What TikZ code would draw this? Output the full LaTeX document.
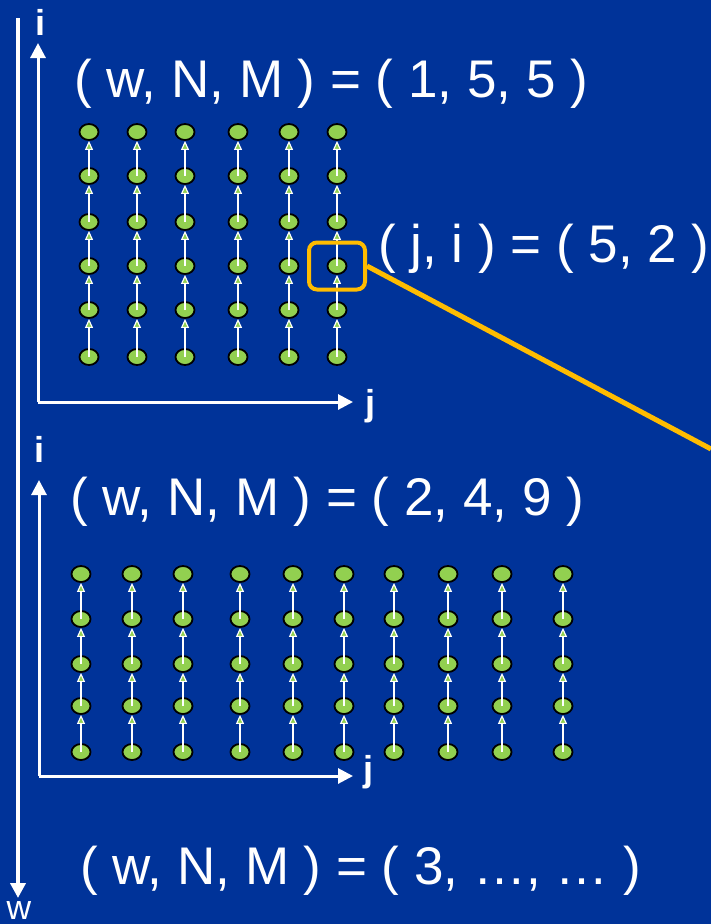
\documentclass[tikz,border=0pt]{standalone}
\usepackage{fontspec}
\setmainfont{Liberation Sans}
\usetikzlibrary{arrows.meta}
\usetikzlibrary{shapes.geometric}
\definecolor{sblue}{RGB}{0,51,153}
\definecolor{sgreen}{RGB}{146,208,80}
\definecolor{sorange}{RGB}{255,188,0}

\begin{document}
\begin{tikzpicture}[x=1pt, y=-1pt,
  dot/.style={ellipse, draw=black, line width=1.8, fill=sgreen, minimum width=19, minimum height=16, inner sep=0},
  dep/.style={draw=white, line width=2.8, -{Triangle[length=9pt, width=8pt, fill=sgreen, line width=1.1pt]}},
  axis/.style={draw=white, line width=3, -{Triangle[length=15pt, width=15pt]}},
  big/.style={text=white, inner sep=0, anchor=base west, font=\fontsize{53}{60}\selectfont},
  lbl/.style={text=white, inner sep=0, anchor=base, font=\bfseries\fontsize{36}{40}\selectfont}]

\path[use as bounding box, fill=sblue] (0,0) rectangle (711,924);

% w axis
\coordinate (w0) at (18,18);
\coordinate (w1) at (18,898);
\draw[axis, line width=4] (w0) -- (w1);
\node[lbl, font=\fontsize{34}{40}\selectfont] (wlab) at (19,919) {w};

% w = 1
\coordinate (o1) at (38,402);
\coordinate (i1) at (38,43);
\coordinate (j1) at (353,402);
\draw[axis] (o1) -- (i1);
\draw[axis] (o1) -- (j1);
\node[lbl] (ilab1) at (41,35) {i};
\node[lbl] (jlab1) at (370,415) {j};
\node[big] (title1) at (74,97) {( w, N, M ) = ( 1, 5, 5 )};

\foreach \x [count=\c from 0] in {89,137,185,238,289,337}
  \foreach \y [count=\r from 0] in {357,310,266,222,176,132}
    \node[dot] (a-\c-\r) at (\x,\y) {};
\foreach \c in {0,...,5}
  \foreach \r [count=\s from 1] in {0,...,4}
    \draw[dep] (a-\c-\r.center) -- (a-\c-\s.south);

% w = 2
\coordinate (o2) at (39,776);
\coordinate (i2) at (39,480);
\coordinate (j2) at (353,776);
\draw[axis] (o2) -- (i2);
\draw[axis] (o2) -- (j2);
\node[lbl] (ilab2) at (40,462) {i};
\node[lbl] (jlab2) at (368,781) {j};
\node[big] (title2) at (70,515) {( w, N, M ) = ( 2, 4, 9 )};

\foreach \x [count=\c from 0] in {81,132,183,240,293,344,394,448,502,563}
  \foreach \y [count=\r from 0] in {752,706,664,619,574}
    \node[dot] (b-\c-\r) at (\x,\y) {};
\foreach \c in {0,...,9}
  \foreach \r [count=\s from 1] in {0,...,3}
    \draw[dep] (b-\c-\r.center) -- (b-\c-\s.south);

% w = 3
\node[big] (title3) at (80,884) {( w, N, M ) = ( 3, …, … )};

% the picked point
\node[draw=sorange, line width=4, rounded corners=8, minimum width=56, minimum height=47, inner sep=0] (focus) at (a-5-2) {};
\node[big] (jilab) at (378,262) {( j, i ) = ( 5, 2 )};
\coordinate (zoomend) at (711,449);
\draw[sorange, line width=5] (focus.east) -- (zoomend);

\end{tikzpicture}
\end{document}
